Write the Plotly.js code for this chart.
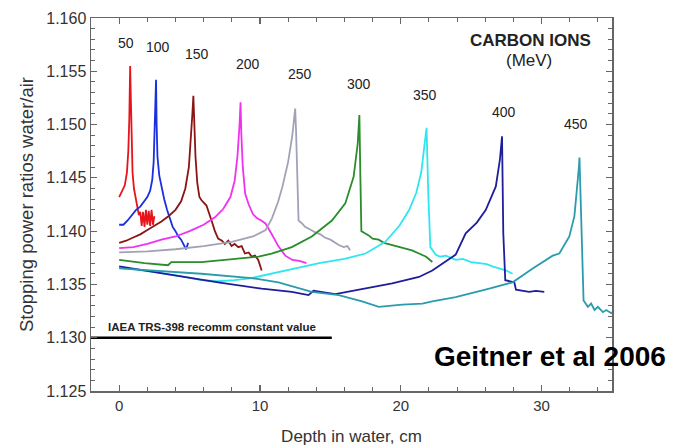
<!DOCTYPE html>
<html>
<head>
<meta charset="utf-8">
<script src="https://cdn.plot.ly/plotly-3.0.1.min.js"></script>
<style>html,body{margin:0;padding:0;background:#fff;}#chart{width:675px;height:446px;}</style>
</head>
<body>
<div id="chart"></div>
<script>
// ---- Data ----
const energies = ['50', '100', '150', '200', '250', '300', '350', '400', '450'];

const depth50 = [0.0, 0.2, 0.4, 0.55, 0.65, 0.72, 0.78, 0.82, 0.88, 0.95, 1.05, 1.2, 1.3, 1.4, 1.5, 1.6, 1.7, 1.8, 1.9, 2.0, 2.1, 2.2, 2.3, 2.4, 2.5];
const spr50   = [1.1432, 1.1437, 1.1443, 1.1455, 1.1475, 1.1505, 1.1555, 1.1530, 1.1490, 1.1455, 1.1440, 1.1428, 1.1420, 1.1415, 1.1418, 1.1405, 1.1418, 1.1404, 1.1420, 1.1406, 1.1419, 1.1405, 1.1420, 1.1406, 1.1414];

const depth100 = [0.0, 0.3, 0.6, 0.9, 1.2, 1.5, 1.8, 2.0, 2.2, 2.35, 2.45, 2.52, 2.58, 2.62, 2.66, 2.72, 2.85, 3.0, 3.2, 3.4, 3.6, 3.8, 4.0, 4.2, 4.4, 4.6, 4.75, 4.9];
const spr100   = [1.1406, 1.1406, 1.1410, 1.1415, 1.1420, 1.1423, 1.1428, 1.1432, 1.1438, 1.1448, 1.1465, 1.1490, 1.1520, 1.1542, 1.1500, 1.1470, 1.1452, 1.1442, 1.1430, 1.1420, 1.1412, 1.1404, 1.1400, 1.1395, 1.1392, 1.1387, 1.1383, 1.1389];

const depth150 = [0.0, 0.5, 1.0, 1.5, 2.0, 2.5, 3.0, 3.5, 4.0, 4.4, 4.7, 4.95, 5.1, 5.2, 5.27, 5.33, 5.42, 5.55, 5.7, 5.85, 6.2, 6.56, 6.8, 7.03, 7.3, 7.5, 7.75, 7.98, 8.2, 8.46, 8.7, 8.93, 9.2, 9.41, 9.65, 9.88, 10.12];
const spr150   = [1.1389, 1.1391, 1.1394, 1.1397, 1.1401, 1.1405, 1.1409, 1.1414, 1.1420, 1.1428, 1.1440, 1.1460, 1.1485, 1.1510, 1.1527, 1.1505, 1.1470, 1.1445, 1.1432, 1.1429, 1.1424, 1.1410, 1.1400, 1.1393, 1.1391, 1.1388, 1.1391, 1.1386, 1.1388, 1.1385, 1.1386, 1.1379, 1.1380, 1.1376, 1.1377, 1.1373, 1.1363];

const depth200 = [0.0, 1.0, 2.0, 3.0, 4.0, 5.0, 6.0, 6.8, 7.4, 7.9, 8.2, 8.4, 8.55, 8.62, 8.68, 8.78, 8.95, 9.2, 9.5, 9.8, 10.1, 10.4, 10.8, 11.3, 11.8, 12.3, 12.8, 13.3];
const spr200   = [1.1384, 1.1385, 1.1388, 1.1392, 1.1395, 1.1400, 1.1406, 1.1413, 1.1421, 1.1432, 1.1447, 1.1470, 1.1500, 1.1521, 1.1490, 1.1460, 1.1435, 1.1425, 1.1416, 1.1412, 1.1410, 1.1407, 1.1398, 1.1386, 1.1377, 1.1373, 1.1372, 1.1370];

const depth250 = [0.0, 2.0, 4.0, 6.0, 8.0, 9.5, 10.4, 10.85, 11.3, 11.6, 12.0, 12.3, 12.42, 12.5, 12.56, 12.65, 12.74, 13.0, 13.2, 13.5, 13.9, 14.3, 14.6, 15.0, 15.35, 15.6, 15.94, 16.2, 16.41];
const spr250   = [1.1380, 1.1381, 1.1383, 1.1386, 1.1390, 1.1395, 1.1401, 1.1412, 1.1428, 1.1442, 1.1465, 1.1490, 1.1505, 1.1515, 1.1495, 1.1450, 1.1410, 1.1407, 1.1404, 1.1402, 1.1399, 1.1397, 1.1394, 1.1392, 1.1389, 1.1387, 1.1385, 1.1386, 1.1382];

const depth300 = [0.0, 1.8, 3.47, 3.7, 5.84, 7.27, 8.7, 9.9, 10.83, 12.26, 13.68, 15.11, 16.06, 16.65, 16.94, 17.06, 17.13, 17.2, 17.45, 17.72, 18.0, 18.43, 18.8, 19.39, 19.8, 20.34, 20.8, 21.29, 21.8, 22.24];
const spr300   = [1.1373, 1.1370, 1.1368, 1.1371, 1.1371, 1.1373, 1.1375, 1.1376, 1.1379, 1.1385, 1.1395, 1.1410, 1.1426, 1.1451, 1.1482, 1.1509, 1.1451, 1.1400, 1.1398, 1.1396, 1.1393, 1.1392, 1.1389, 1.1387, 1.1386, 1.1384, 1.1382, 1.1379, 1.1376, 1.1371];

const depth350 = [0.0, 2.28, 4.65, 5.84, 7.0, 8.2, 9.4, 11.8, 14.2, 16.0, 17.5, 18.9, 19.9, 20.6, 21.1, 21.45, 21.65, 21.83, 21.95, 22.1, 22.47, 22.8, 23.2, 23.9, 24.4, 25.0, 25.57, 26.1, 26.5, 26.99, 27.5, 27.94];
const spr350   = [1.1366, 1.1362, 1.1357, 1.1354, 1.1353, 1.1354, 1.1356, 1.1363, 1.1370, 1.1374, 1.1379, 1.1390, 1.1405, 1.1420, 1.1436, 1.1455, 1.1475, 1.1497, 1.1436, 1.1385, 1.1378, 1.1376, 1.1377, 1.1373, 1.1374, 1.1371, 1.1370, 1.1369, 1.1367, 1.1365, 1.1363, 1.1360];

const depth400 = [0.0, 2.28, 4.65, 7.03, 10.12, 10.83, 12.26, 13.45, 13.8, 15.35, 17.25, 19.39, 21.29, 22.24, 23.9, 24.61, 25.4, 26.04, 26.75, 27.04, 27.19, 27.28, 27.42, 27.7, 28.06, 28.18, 28.6, 29.12, 29.6, 30.19];
const spr400   = [1.1367, 1.1362, 1.1357, 1.1352, 1.1346, 1.1345, 1.1343, 1.1340, 1.1344, 1.1341, 1.1346, 1.1351, 1.1357, 1.1363, 1.1378, 1.1398, 1.1408, 1.1420, 1.1442, 1.1467, 1.1489, 1.1398, 1.1354, 1.1353, 1.1352, 1.1345, 1.1344, 1.1343, 1.1344, 1.1343];

const depth450 = [0.0, 5.84, 9.4, 11.31, 13.68, 15.59, 17.25, 18.44, 20.1, 21.53, 22.24, 23.9, 26.28, 27.94, 29.37, 30.79, 31.26, 31.97, 32.33, 32.52, 32.65, 32.69, 32.8, 32.98, 33.29, 33.52, 33.76, 34.0, 34.35, 34.59, 34.95, 35.19];
const spr450   = [1.1365, 1.1360, 1.1356, 1.1352, 1.1343, 1.1340, 1.1334, 1.1329, 1.1331, 1.1332, 1.1334, 1.1338, 1.1346, 1.1352, 1.1365, 1.1377, 1.1379, 1.1395, 1.1414, 1.1439, 1.1460, 1.1469, 1.1414, 1.1335, 1.1329, 1.1332, 1.1326, 1.1329, 1.1324, 1.1326, 1.1323, 1.1326];

const seriesColors = ['#e8141c', '#1a30e0', '#8b1414', '#f032f0', '#a2a2b6', '#2a8c2a', '#2ee6f0', '#1e1e9c', '#2a9cac'];

// energy label positions (depth, ratio)
const labelDepth = [0.5, 2.77, 5.52, 9.13, 12.83, 17.04, 21.72, 27.35, 32.45];
const labelRatio = [1.15763, 1.15728, 1.15666, 1.15572, 1.15472, 1.15378, 1.15275, 1.15118, 1.15003];

// IAEA TRS-398 recommended constant value
const iaeaDepth = [-2, 15.1];
const iaeaRatio = [1.130, 1.130];

const xTickVals = [0, 10, 20, 30];
const yTickVals = [1.125, 1.130, 1.135, 1.140, 1.145, 1.150, 1.155, 1.160];

// ---- Build traces ----
const depths = [depth50, depth100, depth150, depth200, depth250, depth300, depth350, depth400, depth450];
const ratios = [spr50, spr100, spr150, spr200, spr250, spr300, spr350, spr400, spr450];

const traces = energies.map((e, i) => ({
  x: depths[i], y: ratios[i], type: 'scatter', mode: 'lines', name: e + ' MeV',
  line: {color: seriesColors[i], width: 1.8}, hoverinfo: 'skip'
}));
traces.push({
  x: iaeaDepth, y: iaeaRatio, type: 'scatter', mode: 'lines', name: 'IAEA TRS-398',
  line: {color: '#000', width: 2.5}, hoverinfo: 'skip'
});

const textColor = '#222';
const fontFam = '"Liberation Sans", Arial, Helvetica, sans-serif';

const annotations = energies.map((e, i) => ({
  x: labelDepth[i], y: labelRatio[i], xref: 'x', yref: 'y', text: e, showarrow: false,
  font: {family: fontFam, size: 14, color: textColor}, xanchor: 'center', yanchor: 'middle'
}));
annotations.push({x: 29.22, y: 1.15791, xref: 'x', yref: 'y', text: '<b>CARBON IONS</b>', showarrow: false,
  font: {family: fontFam, size: 17, color: textColor}, xanchor: 'center', yanchor: 'middle'});
annotations.push({x: 29.13, y: 1.15603, xref: 'x', yref: 'y', text: '(MeV)', showarrow: false,
  font: {family: fontFam, size: 17, color: textColor}, xanchor: 'center', yanchor: 'middle'});
annotations.push({x: -0.93, y: 1.13101, xref: 'x', yref: 'y', text: '<b>IAEA TRS-398 recomm constant value</b>', showarrow: false,
  font: {family: fontFam, size: 11.5, color: textColor}, xanchor: 'left', yanchor: 'middle'});
annotations.push({x: 30.61, y: 1.1282, xref: 'x', yref: 'y', text: '<b>Geitner et al 2006</b>', showarrow: false,
  font: {family: fontFam, size: 28, color: '#000'}, xanchor: 'center', yanchor: 'middle'});

const axisCommon = {
  showline: true, linecolor: '#666', linewidth: 1.5, mirror: 'allticks',
  ticks: 'inside', ticklen: 6, tickwidth: 1.2, tickcolor: '#666',
  showgrid: false, zeroline: false, automargin: false
};

const layout = {
  width: 675, height: 446,
  margin: {l: 91, r: 63, t: 18, b: 55},
  paper_bgcolor: '#fff', plot_bgcolor: '#fff',
  showlegend: false, hovermode: false,
  font: {family: fontFam, color: '#333'},
  xaxis: Object.assign({}, axisCommon, {
    range: [-2, 35], tickvals: xTickVals, ticktext: xTickVals.map(String),
    minor: {dtick: 2, tick0: 0, ticks: 'inside', ticklen: 4, tickcolor: '#666', tickwidth: 1},
    tickfont: {size: 15, color: '#333', family: fontFam},
    title: {text: 'Depth in water, cm', font: {size: 17, color: '#333', family: fontFam}, standoff: 18}
  }),
  yaxis: Object.assign({}, axisCommon, {
    range: [1.125, 1.160], tickvals: yTickVals, ticktext: yTickVals.map(v => v.toFixed(3)),
    minor: {dtick: 0.001, tick0: 1.125, ticks: 'inside', ticklen: 4, tickcolor: '#666', tickwidth: 1},
    tickfont: {size: 16, color: '#333', family: fontFam},
    title: {text: 'Stopping power ratios water/air', font: {size: 18.5, color: '#333', family: fontFam}, standoff: 8}
  }),
  annotations: annotations
};

Plotly.newPlot('chart', traces, layout, {displayModeBar: false, staticPlot: true});
</script>
</body>
</html>
